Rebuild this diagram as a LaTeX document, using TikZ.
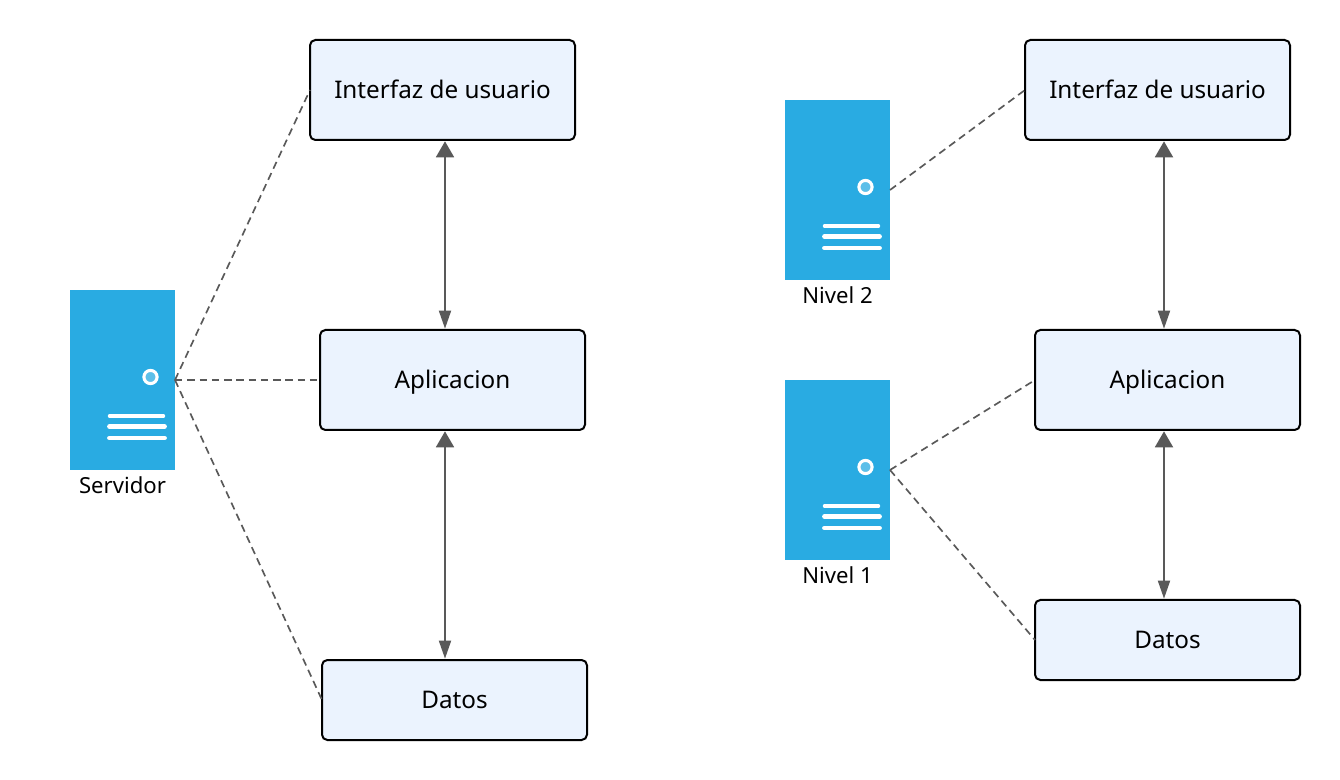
\documentclass[tikz,border=0pt]{standalone}
\usepackage{fontspec}
\setmainfont{Noto Sans}
\usetikzlibrary{arrows.meta}
\definecolor{BoxClr}{HTML}{EBF3FE}
\definecolor{ServerClr}{HTML}{29ABE2}
\definecolor{LampClr}{HTML}{5CBFE9}
\definecolor{LinkClr}{HTML}{595959}
\tikzset{
  layerbox/.style={draw=black,line width=1.5pt,fill=BoxClr,rounded corners=4pt,
    minimum width=198.75pt,outer sep=0pt,text height=16.5pt,text depth=3.5pt,
    font=\fontsize{18.2}{20}\selectfont},
  serverbox/.style={fill=ServerClr,minimum width=78.75pt,minimum height=135pt,
    inner sep=0pt,outer sep=0pt},
  serverlabel/.style={font=\fontsize{16.6}{18}\selectfont,inner sep=0pt},
  dashlink/.style={draw=LinkClr,line width=1.25pt,dash pattern=on 5.6pt off 3.6pt},
  duplex/.style={draw=LinkClr,line width=1.4pt,shorten <=1pt,shorten >=1pt,
    {Triangle[width=13.5pt,length=12pt]}-{Triangle[width=9pt,length=13.5pt]}},
}

\begin{document}
\begin{tikzpicture}[x=.75pt,y=-.75pt]
\useasboundingbox (0,0) rectangle (1340,780);

% left: one server
\node[layerbox,minimum height=75pt] (uiA) at (442.5,90) {Interfaz de usuario};
\node[layerbox,minimum height=75pt] (appA) at (452.5,380) {Aplicacion};
\node[layerbox,minimum height=60pt] (dataA) at (454.5,700) {Datos};
\node[serverbox] (srvA) at (122.5,380) {};
\node[serverlabel] (lblA) at (122.5,485) {Servidor};

% right: two levels
\node[layerbox,minimum height=75pt] (uiB) at (1157.5,90) {Interfaz de usuario};
\node[layerbox,minimum height=75pt] (appB) at (1167.5,380) {Aplicacion};
\node[layerbox,minimum height=60pt] (dataB) at (1167.5,640) {Datos};
\node[serverbox] (srvB) at (837.5,190) {};
\node[serverlabel] (lblB) at (837.5,295) {Nivel 2};
\node[serverbox] (srvC) at (837.5,470) {};
\node[serverlabel] (lblC) at (837.5,575) {Nivel 1};

% lamp and slots of each server
\foreach \srv in {srvA,srvB,srvC} {
  \draw[white,line width=2.3pt,fill=LampClr] ([shift={(28,-3)}]\srv.center) circle (6.6);
  \draw[white,line width=2.6pt,line cap=round] ([shift={(-13,36)}]\srv.center) -- ++(54,0);
  \draw[white,line width=3.6pt,line cap=round] ([shift={(-13,46.5)}]\srv.center) -- ++(55,0);
  \draw[white,line width=3.6pt,line cap=round] ([shift={(-13,58)}]\srv.center) -- ++(55,0);
}

\draw[dashlink] (srvA.east) -- (uiA.west);
\draw[dashlink] (srvA.east) -- (appA.west);
\draw[dashlink] (srvA.east) -- (dataA.west);
\draw[dashlink] (srvB.east) -- (uiB.west);
\draw[dashlink] (srvC.east) -- (appB.west);
\draw[dashlink] (srvC.east) -- (dataB.west);

\draw[duplex] ([shift={(2.5,0)}]uiA.south) -- ([shift={(-7.5,0)}]appA.north);
\draw[duplex] ([shift={(-7.5,0)}]appA.south) -- ([shift={(-9.5,0)}]dataA.north);
\draw[duplex] ([shift={(6.5,0)}]uiB.south) -- ([shift={(-3.5,0)}]appB.north);
\draw[duplex] ([shift={(-3.5,0)}]appB.south) -- ([shift={(-3.5,0)}]dataB.north);

\end{tikzpicture}
\end{document}
